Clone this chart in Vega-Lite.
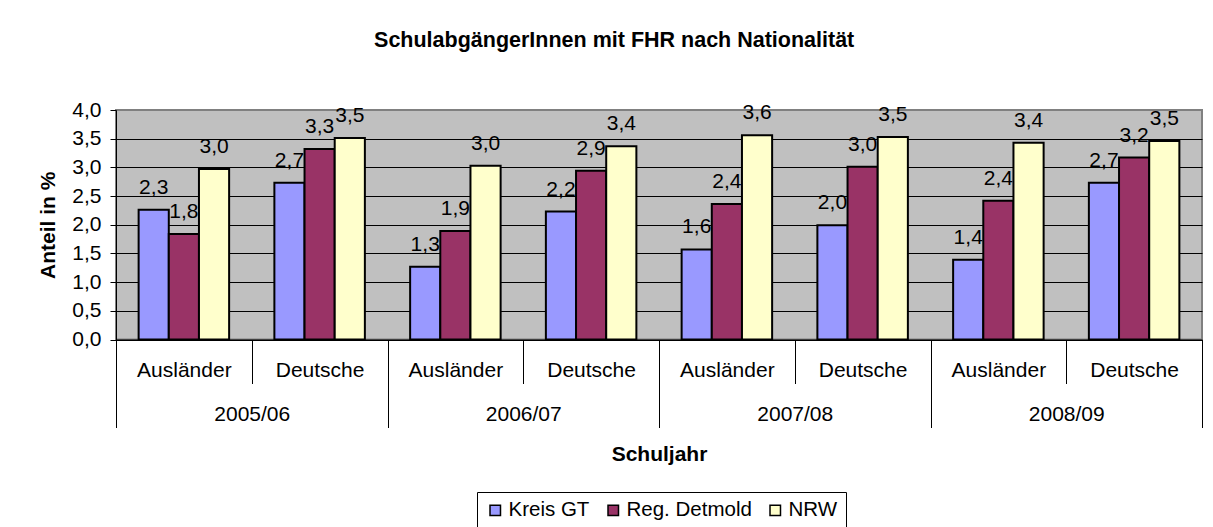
{
  "$schema": "https://vega.github.io/schema/vega-lite/v6.json",
  "width": 1086,
  "height": 229.5,
  "autosize": {"type": "none"},
  "padding": {"left": 116, "top": 110, "right": 11, "bottom": 187.5},
  "background": "white",
  "config": {
    "locale": {"number": {"decimal": ",", "thousands": ".", "grouping": [3], "currency": ["", " €"]}},
    "font": "Liberation Sans",
    "view": {"fill": "#C0C0C0", "stroke": "#808080", "strokeWidth": 2},
    "axis": {
      "labelFont": "Liberation Sans",
      "labelFontSize": 21,
      "labelColor": "black",
      "titleFont": "Liberation Sans",
      "titleFontSize": 21,
      "titleFontWeight": "bold",
      "titleColor": "black",
      "domainColor": "black",
      "tickColor": "black",
      "gridColor": "black"
    },
    "legend": {
      "labelFont": "Liberation Sans",
      "labelFontSize": 20.5,
      "labelColor": "black"
    }
  },
  "title": {
    "text": "SchulabgängerInnen mit FHR nach Nationalität",
    "frame": "bounds",
    "anchor": "middle",
    "dx": -6,
    "font": "Liberation Sans",
    "fontSize": 21.5,
    "fontWeight": "bold",
    "color": "black",
    "offset": 48
  },
  "data": {
    "values": [
      {"Schuljahr": "2005/06", "Nationalitaet": "Ausländer", "Gruppe": "2005/06 Ausländer", "Region": "Kreis GT", "Anteil": 2.26},
      {"Schuljahr": "2005/06", "Nationalitaet": "Ausländer", "Gruppe": "2005/06 Ausländer", "Region": "Reg. Detmold", "Anteil": 1.84},
      {"Schuljahr": "2005/06", "Nationalitaet": "Ausländer", "Gruppe": "2005/06 Ausländer", "Region": "NRW", "Anteil": 2.97},
      {"Schuljahr": "2005/06", "Nationalitaet": "Deutsche", "Gruppe": "2005/06 Deutsche", "Region": "Kreis GT", "Anteil": 2.73},
      {"Schuljahr": "2005/06", "Nationalitaet": "Deutsche", "Gruppe": "2005/06 Deutsche", "Region": "Reg. Detmold", "Anteil": 3.32},
      {"Schuljahr": "2005/06", "Nationalitaet": "Deutsche", "Gruppe": "2005/06 Deutsche", "Region": "NRW", "Anteil": 3.51},
      {"Schuljahr": "2006/07", "Nationalitaet": "Ausländer", "Gruppe": "2006/07 Ausländer", "Region": "Kreis GT", "Anteil": 1.27},
      {"Schuljahr": "2006/07", "Nationalitaet": "Ausländer", "Gruppe": "2006/07 Ausländer", "Region": "Reg. Detmold", "Anteil": 1.89},
      {"Schuljahr": "2006/07", "Nationalitaet": "Ausländer", "Gruppe": "2006/07 Ausländer", "Region": "NRW", "Anteil": 3.03},
      {"Schuljahr": "2006/07", "Nationalitaet": "Deutsche", "Gruppe": "2006/07 Deutsche", "Region": "Kreis GT", "Anteil": 2.23},
      {"Schuljahr": "2006/07", "Nationalitaet": "Deutsche", "Gruppe": "2006/07 Deutsche", "Region": "Reg. Detmold", "Anteil": 2.94},
      {"Schuljahr": "2006/07", "Nationalitaet": "Deutsche", "Gruppe": "2006/07 Deutsche", "Region": "NRW", "Anteil": 3.37},
      {"Schuljahr": "2007/08", "Nationalitaet": "Ausländer", "Gruppe": "2007/08 Ausländer", "Region": "Kreis GT", "Anteil": 1.57},
      {"Schuljahr": "2007/08", "Nationalitaet": "Ausländer", "Gruppe": "2007/08 Ausländer", "Region": "Reg. Detmold", "Anteil": 2.36},
      {"Schuljahr": "2007/08", "Nationalitaet": "Ausländer", "Gruppe": "2007/08 Ausländer", "Region": "NRW", "Anteil": 3.56},
      {"Schuljahr": "2007/08", "Nationalitaet": "Deutsche", "Gruppe": "2007/08 Deutsche", "Region": "Kreis GT", "Anteil": 1.99},
      {"Schuljahr": "2007/08", "Nationalitaet": "Deutsche", "Gruppe": "2007/08 Deutsche", "Region": "Reg. Detmold", "Anteil": 3.01},
      {"Schuljahr": "2007/08", "Nationalitaet": "Deutsche", "Gruppe": "2007/08 Deutsche", "Region": "NRW", "Anteil": 3.53},
      {"Schuljahr": "2008/09", "Nationalitaet": "Ausländer", "Gruppe": "2008/09 Ausländer", "Region": "Kreis GT", "Anteil": 1.39},
      {"Schuljahr": "2008/09", "Nationalitaet": "Ausländer", "Gruppe": "2008/09 Ausländer", "Region": "Reg. Detmold", "Anteil": 2.42},
      {"Schuljahr": "2008/09", "Nationalitaet": "Ausländer", "Gruppe": "2008/09 Ausländer", "Region": "NRW", "Anteil": 3.43},
      {"Schuljahr": "2008/09", "Nationalitaet": "Deutsche", "Gruppe": "2008/09 Deutsche", "Region": "Kreis GT", "Anteil": 2.73},
      {"Schuljahr": "2008/09", "Nationalitaet": "Deutsche", "Gruppe": "2008/09 Deutsche", "Region": "Reg. Detmold", "Anteil": 3.17},
      {"Schuljahr": "2008/09", "Nationalitaet": "Deutsche", "Gruppe": "2008/09 Deutsche", "Region": "NRW", "Anteil": 3.46}
    ]
  },
  "layer": [
    {
      "encoding": {
        "x": {
          "field": "Gruppe",
          "type": "nominal",
          "sort": null,
          "scale": {"paddingInner": 0, "paddingOuter": 0},
          "axis": {
            "title": null,
            "labelAngle": 0,
            "labelExpr": "split(datum.label, ' ')[1]",
            "labelBaseline": "middle",
            "labelPadding": -13.5,
            "tickBand": "extent",
            "tickSize": 44,
            "domainWidth": 1,
            "tickWidth": 1
          }
        },
        "xOffset": {
          "field": "Region",
          "type": "nominal",
          "sort": ["Kreis GT", "Reg. Detmold", "NRW"],
          "scale": {"paddingInner": 0, "paddingOuter": 0.75}
        },
        "y": {
          "field": "Anteil",
          "type": "quantitative",
          "scale": {"domain": [0, 4]},
          "axis": {
            "title": "Anteil in %",
            "values": [0, 0.5, 1, 1.5, 2, 2.5, 3, 3.5, 4],
            "format": ".1f",
            "tickSize": 6,
            "labelPadding": 9,
            "titlePadding": 13,
            "grid": true,
            "gridColor": {"condition": {"test": "datum.value === 4", "value": "#808080"}, "value": "black"},
            "gridWidth": 1
          }
        }
      },
      "layer": [
        {
          "mark": {"type": "bar", "stroke": "black", "strokeWidth": 2},
          "encoding": {
            "color": {
              "field": "Region",
              "type": "nominal",
              "sort": ["Kreis GT", "Reg. Detmold", "NRW"],
              "scale": {"domain": ["Kreis GT", "Reg. Detmold", "NRW"], "range": ["#9999FF", "#993366", "#FFFFCC"]},
              "legend": {
                "title": null,
                "orient": "none",
                "legendX": 361,
                "legendY": 382,
                "direction": "horizontal",
                "strokeColor": "black",
                "padding": 8,
                "symbolType": "square",
                "symbolSize": 110,
                "symbolStrokeColor": "black",
                "symbolStrokeWidth": 1.5,
                "symbolOpacity": 1,
                "labelOffset": 3,
                "columnPadding": 13
              }
            }
          }
        },
        {
          "mark": {"type": "text", "dy": -22, "baseline": "middle", "fontSize": 21, "font": "Liberation Sans", "color": "black"},
          "encoding": {
            "text": {"field": "Anteil", "type": "quantitative", "format": ".1f"}
          }
        }
      ]
    },
    {
      "mark": {"type": "point", "opacity": 0},
      "encoding": {
        "x": {
          "field": "Schuljahr",
          "type": "nominal",
          "sort": null,
          "scale": {"type": "band", "paddingInner": 0, "paddingOuter": 0},
          "axis": {
            "orient": "bottom",
            "title": "Schuljahr",
            "titlePadding": 15,
            "labelAngle": 0,
            "labelBaseline": "middle",
            "labelPadding": -13.5,
            "domain": false,
            "tickBand": "extent",
            "tickSize": 88,
            "tickWidth": 1
          }
        }
      }
    }
  ],
  "resolve": {"scale": {"x": "independent"}}
}
